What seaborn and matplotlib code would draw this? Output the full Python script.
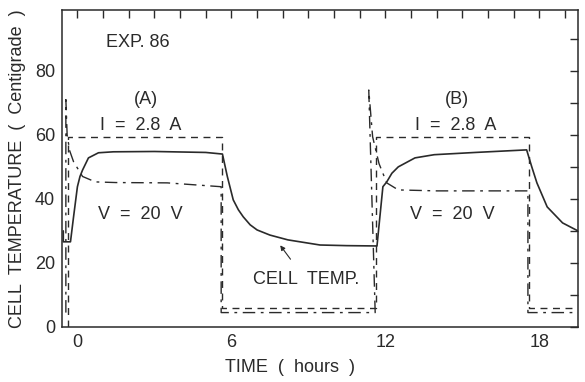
import matplotlib
matplotlib.use("Agg")
import matplotlib.pyplot as plt
import matplotlib.ticker as mticker
import seaborn as sns

# cell temperature (solid)
cell_t = [-0.55, -0.55, -0.27, -0.15, 0.0, 0.1, 0.2, 0.43, 0.82, 1.4, 3.0, 5.0, 5.65,
          5.84, 6.07, 6.27, 6.46, 6.73, 7.0, 7.5, 8.2, 9.45, 10.5, 11.67, 11.9, 12.05,
          12.25, 12.5, 13.15, 13.9, 15.5, 17.5, 17.7, 17.9, 18.3, 18.9, 19.5]
cell_v = [30, 26.6, 26.6, 34.4, 43.8, 47, 49, 52.8, 54.4, 54.7, 54.8, 54.5, 54,
          47, 39.7, 36.6, 34.4, 31.9, 30.3, 28.7, 27.2, 25.6, 25.4, 25.3, 43.8, 45.3,
          48, 50, 52.8, 53.8, 54.5, 55.3, 50, 45, 37.5, 32.5, 30]

# current (dashed)
cur_t = [-0.35, -0.35, 5.65, 5.65, 11.62, 11.62, 17.6, 17.6, 19.5]
cur_v = [0, 59.4, 59.4, 6, 6, 59.4, 59.4, 6, 6]

# voltage (dash-dot)
volt_t = [-0.45, -0.45, -0.4, -0.3, -0.15, 0.2, 0.7, 1.5, 3.5, 5.6, 5.6, 11.6,
          11.35, 11.5, 11.75, 12.05, 12.5, 14.0, 17.55, 17.55, 19.5]
volt_v = [4.5, 71, 60, 55, 51.6, 47, 45.3, 45.1, 45, 43.8, 4.5, 4.5,
          74, 59.4, 51, 45, 42.8, 42.5, 42.5, 4.5, 4.5]

x_ticks = [0, 6, 12, 18]
y_ticks = [0, 20, 40, 60, 80]

sns.set_style("white")
FONT = ["Liberation Sans Narrow", "Liberation Sans", "DejaVu Sans"]
plt.rcParams["font.family"] = FONT
ink = "#2a2a2a"

fig, ax = plt.subplots(figsize=(5.85, 3.82), dpi=100)
fig.subplots_adjust(left=0.106, right=0.988, top=0.974, bottom=0.144)

sns.lineplot(x=cell_t, y=cell_v, estimator=None, sort=False, ax=ax,
             color=ink, lw=1.2)
sns.lineplot(x=cur_t, y=cur_v, estimator=None, sort=False, ax=ax,
             color=ink, lw=1.0, dashes=False, linestyle=(0, (5, 4)))
sns.lineplot(x=volt_t, y=volt_v, estimator=None, sort=False, ax=ax,
             color=ink, lw=1.0, dashes=False, linestyle=(0, (9, 4, 2, 4)))

ax.set_xlim(-0.6, 19.5)
ax.set_ylim(0, 99)
ax.xaxis.set_major_locator(mticker.FixedLocator(x_ticks))
ax.xaxis.set_minor_locator(mticker.MultipleLocator(1))
ax.yaxis.set_major_locator(mticker.FixedLocator(y_ticks))
ax.yaxis.set_minor_locator(mticker.MultipleLocator(10))
ax.tick_params(which="both", direction="in", length=6, width=1, color=ink,
               top=True, right=True, labelsize=13, labelcolor=ink, pad=5)
for s in ax.spines.values():
    s.set_color(ink)
    s.set_linewidth(1.1)

ax.set_xlabel("TIME  (  hours  )", fontsize=13, color=ink)
ax.xaxis.set_label_coords(0.442, -0.10)
ax.set_ylabel("CELL  TEMPERATURE  (  Centigrade  )", fontsize=13, color=ink, labelpad=6)

txt = dict(fontsize=13, color=ink, ha="center", va="center")
ax.text(2.35, 88.7, "EXP. 86", **txt)
ax.text(2.65, 71, "(A)", **txt)
ax.text(2.45, 63, "I  =  2.8  A", **txt)
ax.text(2.45, 35, "V  =  20  V", **txt)
ax.text(14.8, 71, "(B)", **txt)
ax.text(14.75, 63, "I  =  2.8  A", **txt)
ax.text(14.6, 35, "V  =  20  V", **txt)
ax.annotate("CELL  TEMP.", xy=(7.9, 25.5), xytext=(8.9, 14.7),
            arrowprops=dict(arrowstyle="-|>", color=ink, lw=0.8,
                            shrinkA=8, shrinkB=0, mutation_scale=7),
            **txt)

fig.savefig("out.png", dpi=100)
